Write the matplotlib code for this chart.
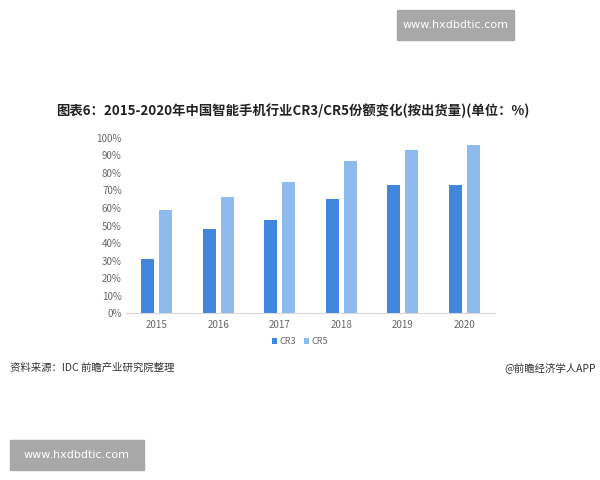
import matplotlib
matplotlib.use("Agg")
from matplotlib import pyplot as plt
from matplotlib.patches import Rectangle
import numpy as np

plt.rcParams['font.family'] = ['Noto Sans CJK SC', 'DejaVu Sans']

years = ["2015", "2016", "2017", "2018", "2019", "2020"]
cr3 = [31, 48, 53, 65, 73, 73]
cr5 = [59, 66, 75, 87, 93, 96]
yticks = [0, 10, 20, 30, 40, 50, 60, 70, 80, 90, 100]

c3 = '#3F86DC'
c5 = '#8FBAEE'
grey = '#666666'

fig = plt.figure(figsize=(6, 4.8), dpi=100)
ax = fig.add_axes([0.21, 0.347, 0.615, 0.366])

x = np.arange(len(years))
w = 0.21
off = 0.146
ax.bar(x - off, cr3, width=w, color=c3, label='CR3')
ax.bar(x + off, cr5, width=w, color=c5, label='CR5')

ax.set_xlim(-0.5, len(years) - 0.5)
ax.set_ylim(0, 100)
ax.set_yticks(yticks)
ax.set_yticklabels([f"{v}%" for v in yticks])
ax.set_xticks(x)
ax.set_xticklabels(years)
ax.tick_params(axis='both', length=0, labelsize=7, colors=grey)
ax.tick_params(axis='x', pad=5)
ax.tick_params(axis='y', pad=3)
for s in ['top', 'right', 'left']:
    ax.spines[s].set_visible(False)
ax.spines['bottom'].set_color('#D9D9D9')

leg = fig.legend(loc='center', bbox_to_anchor=(0.5, 1 - 342 / 480), ncol=2, frameon=False,
                 fontsize=6.5, handlelength=0.6, handleheight=0.6, handletextpad=0.3,
                 columnspacing=0.8)
for t in leg.get_texts():
    t.set_color(grey)

fig.text(293 / 600, 1 - 111 / 480, "图表6：2015-2020年中国智能手机行业CR3/CR5份额变化(按出货量)(单位：%)",
         ha='center', va='center', fontsize=9.6, fontweight='bold', color='#222222')
fig.text(10 / 600, 1 - 368 / 480, "资料来源：IDC 前瞻产业研究院整理", ha='left', va='center',
         fontsize=7.5, color='#333333')
fig.text(596 / 600, 1 - 368 / 480, "@前瞻经济学人APP", ha='right', va='center',
         fontsize=7.5, color='#333333')

# site stamps
for (x0, y0, x1, y1) in [(397, 10, 514, 40), (10, 440, 144, 470)]:
    fig.patches.append(Rectangle((x0 / 600, 1 - y1 / 480), (x1 - x0) / 600, (y1 - y0) / 480,
                                 transform=fig.transFigure, color='#A8A8A8', zorder=0))
    fig.text((x0 + x1) / 2 / 600, 1 - (y0 + y1) / 2 / 480, "www.hxdbdtic.com", ha='center',
             va='center', fontsize=8, color='white', family='DejaVu Sans')

fig.savefig('out.png', dpi=100)
